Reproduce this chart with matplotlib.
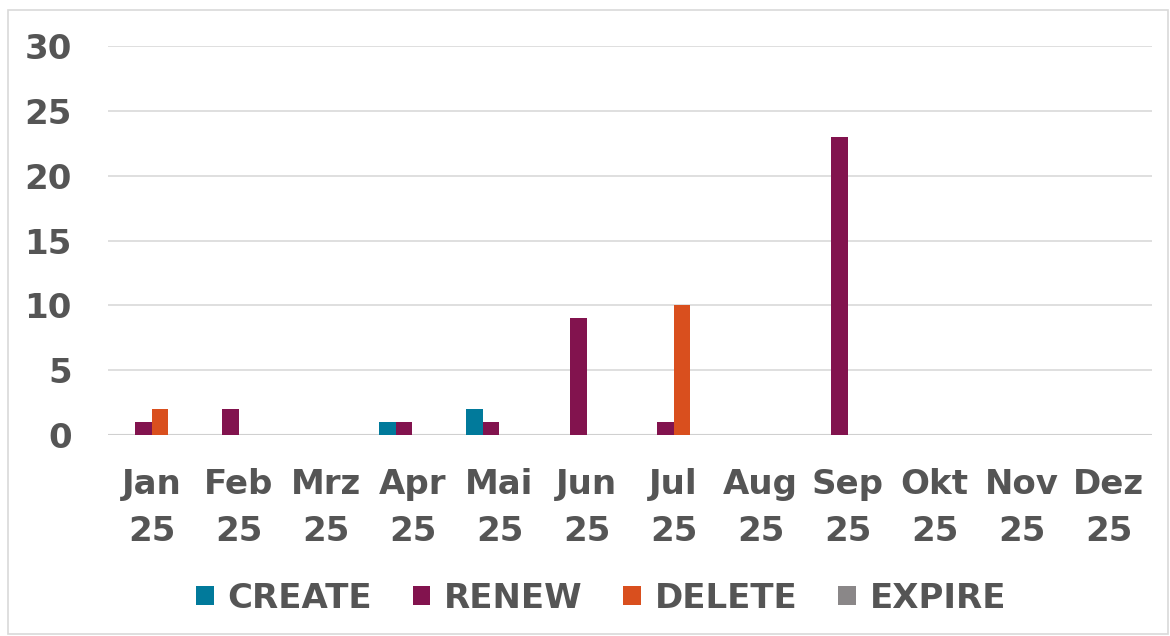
import matplotlib
matplotlib.use("Agg")
import matplotlib.pyplot as plt
import numpy as np
from matplotlib.patches import Rectangle

months = ["Jan\n25", "Feb\n25", "Mrz\n25", "Apr\n25", "Mai\n25", "Jun\n25",
          "Jul\n25", "Aug\n25", "Sep\n25", "Okt\n25", "Nov\n25", "Dez\n25"]
create = [0, 0, 0, 1, 2, 0, 0, 0, 0, 0, 0, 0]
renew = [1, 2, 0, 1, 1, 9, 1, 0, 23, 0, 0, 0]
delete = [2, 0, 0, 0, 0, 0, 10, 0, 0, 0, 0, 0]
expire = [0, 0, 0, 0, 0, 0, 0, 0, 0, 0, 0, 0]
series = [("CREATE", create, "#017A9B"), ("RENEW", renew, "#82134E"),
          ("DELETE", delete, "#D94F1E"), ("EXPIRE", expire, "#8A8788")]
yticks = [0, 5, 10, 15, 20, 25, 30]

W, H = 1170, 636
FS = 24.5
TXT = "#555555"
fig = plt.figure(figsize=(W / 100, H / 100), dpi=100)
fig.patches.append(Rectangle((8 / W, 2 / H), (W - 10) / W, (H - 12) / H,
                             transform=fig.transFigure, fill=False,
                             edgecolor="#D9D9D9", linewidth=1.2))
ax = fig.add_axes([108 / W, (H - 435) / H, (1152 - 108) / W, (435 - 46) / H])

x = np.arange(len(months))
w = 0.195
for i, (name, vals, col) in enumerate(series):
    ax.bar(x + (i - 1.5) * w, vals, width=w, color=col, label=name, zorder=3)

ax.set_xlim(-0.5, len(months) - 0.5)
ax.set_ylim(0, 30)
ax.set_yticks(yticks)
ax.grid(axis="y", color="#D9D9D9", linewidth=1.2, zorder=0)
for s in ax.spines.values():
    s.set_visible(False)
ax.axhline(0, color="#D0D0D0", linewidth=1.5, zorder=2)
ax.set_xticks(x)
ax.set_xticklabels(months, linespacing=1.52)
ax.tick_params(axis="both", length=0, labelsize=FS, labelcolor=TXT)
ax.tick_params(axis="y", pad=26)
ax.tick_params(axis="x", pad=24)
for lab in ax.get_xticklabels() + ax.get_yticklabels():
    lab.set_fontweight("bold")

fig.legend(loc="center", bbox_to_anchor=(601 / W, (H - 598) / H), ncol=4,
           frameon=False, prop={"size": FS, "weight": "bold"},
           labelcolor=TXT, handlelength=0.52, handleheight=0.52,
           handletextpad=0.4, columnspacing=1.2)

fig.savefig("out.png", dpi=100)
